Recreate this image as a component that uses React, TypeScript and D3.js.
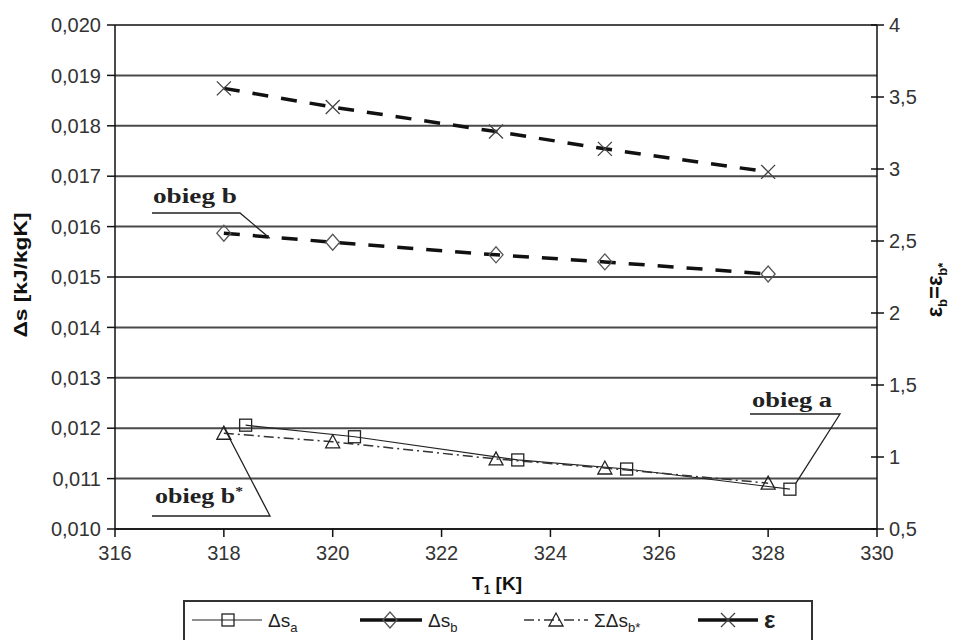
import React from "react";
import * as d3 from "d3";

// temperatures T1 [K]
const tempA = [318.4, 320.4, 323.4, 325.4, 328.4];
const tempB = [318, 320, 323, 325, 328];

// entropy changes [kJ/kgK] (left axis)
const dsA = [0.01206, 0.01183, 0.01137, 0.01119, 0.01079];
const dsB = [0.01587, 0.01569, 0.01544, 0.0153, 0.01506];
const dsBStar = [0.0119, 0.01173, 0.01139, 0.01121, 0.01091];

// epsilon (right axis)
const epsilon = [3.56, 3.43, 3.26, 3.14, 2.98];

const xTicks = [316, 318, 320, 322, 324, 326, 328, 330];
const leftTicks = [0.01, 0.011, 0.012, 0.013, 0.014, 0.015, 0.016, 0.017, 0.018, 0.019, 0.02];
const rightTicks = [0.5, 1, 1.5, 2, 2.5, 3, 3.5, 4];

const W = 963,
  H = 640;
const plot = { left: 115, right: 877, top: 25, bottom: 529 };
const sans = "'Liberation Sans', Arial, sans-serif";
const serif = "'Liberation Serif', 'Times New Roman', serif";

const x = d3.scaleLinear().domain([316, 330]).range([plot.left, plot.right]);
const yL = d3.scaleLinear().domain([0.01, 0.02]).range([plot.bottom, plot.top]);
const yR = d3.scaleLinear().domain([0.5, 4]).range([plot.bottom, plot.top]);

const fmtL = (v: number) => d3.format(".3f")(v).replace(".", ",");
const fmtR = (v: number) => (Number.isInteger(v) ? String(v) : String(v).replace(".", ","));

const Square = ({ cx, cy }: { cx: number; cy: number }) => (
  <rect x={cx - 6} y={cy - 6} width={12} height={12} fill="none" stroke="#222" strokeWidth={1.3} />
);
const Diamond = ({ cx, cy }: { cx: number; cy: number }) => (
  <path d={`M${cx - 7},${cy}L${cx},${cy - 8}L${cx + 7},${cy}L${cx},${cy + 8}Z`} fill="none" stroke="#555" strokeWidth={1.3} />
);
const Triangle = ({ cx, cy }: { cx: number; cy: number }) => (
  <path d={`M${cx - 7},${cy + 6}L${cx},${cy - 7}L${cx + 7},${cy + 6}Z`} fill="none" stroke="#222" strokeWidth={1.3} />
);
const Cross = ({ cx, cy }: { cx: number; cy: number }) => (
  <path d={`M${cx - 7},${cy - 7}L${cx + 7},${cy + 7}M${cx - 7},${cy + 7}L${cx + 7},${cy - 7}`} stroke="#444" strokeWidth={1.3} />
);

const App = () => {
  const lineA = d3.line<number>().x((_, i) => x(tempA[i])).y((d) => yL(d))(dsA);
  const lineB = d3.line<number>().x((_, i) => x(tempB[i])).y((d) => yL(d))(dsB);
  const lineBStar = d3.line<number>().x((_, i) => x(tempB[i])).y((d) => yL(d))(dsBStar);
  const lineE = d3.line<number>().x((_, i) => x(tempB[i])).y((d) => yR(d))(epsilon);

  // annotation anchors from data points
  const bPt = [x(tempB[0]), yL(dsB[0])];
  const bStarPt = [x(tempB[0]), yL(dsBStar[0])];
  const aPt = [x(tempA[4]), yL(dsA[4])];

  const legY = 620;

  return (
    <svg width={W} height={H} style={{ position: "absolute", left: 0, top: 0, background: "#fff" }}>
      {/* gridlines */}
      {leftTicks.map((t) => (
        <line key={t} x1={plot.left} x2={plot.right} y1={yL(t)} y2={yL(t)} stroke="#4a4a4a" strokeWidth={2} />
      ))}
      {/* axes */}
      <line x1={plot.left} x2={plot.left} y1={plot.top} y2={plot.bottom} stroke="#111" strokeWidth={1.5} />
      <line x1={plot.right} x2={plot.right} y1={plot.top} y2={plot.bottom} stroke="#111" strokeWidth={1.5} />
      <line x1={plot.left} x2={plot.right} y1={plot.bottom} y2={plot.bottom} stroke="#111" strokeWidth={1.5} />

      {leftTicks.map((t) => (
        <g key={t}>
          <line x1={plot.left - 8} x2={plot.left} y1={yL(t)} y2={yL(t)} stroke="#111" strokeWidth={1.5} />
          <text x={plot.left - 14} y={yL(t)} dy="0.36em" textAnchor="end" fontFamily={sans} fontSize={20} fill="#333">
            {fmtL(t)}
          </text>
        </g>
      ))}
      {rightTicks.map((t) => (
        <g key={t}>
          <line x1={plot.right - 6} x2={plot.right + 7} y1={yR(t)} y2={yR(t)} stroke="#111" strokeWidth={1.5} />
          <text x={plot.right + 12} y={yR(t)} dy="0.36em" fontFamily={sans} fontSize={20} fill="#333">
            {fmtR(t)}
          </text>
        </g>
      ))}
      {xTicks.map((t) => (
        <g key={t}>
          <line x1={x(t)} x2={x(t)} y1={plot.bottom} y2={plot.bottom + 8} stroke="#111" strokeWidth={1.5} />
          <text x={x(t)} y={plot.bottom + 31} textAnchor="middle" fontFamily={sans} fontSize={20} fill="#333">
            {t}
          </text>
        </g>
      ))}

      {/* axis titles */}
      <text transform="translate(27,275) rotate(-90)" textAnchor="middle" fontFamily={sans} fontWeight="bold" fontSize={18} fill="#111" textLength={125} lengthAdjust="spacingAndGlyphs">
        Δs [kJ/kgK]
      </text>
      <text transform="translate(942,290) rotate(-90)" textAnchor="middle" fontFamily={sans} fontWeight="bold" fontSize={22} fill="#111">
        ε<tspan fontSize={13} dy={5}>b</tspan>
        <tspan dy={-5}>=ε</tspan>
        <tspan fontSize={13} dy={5}>b*</tspan>
      </text>
      <text x={497} y={590} textAnchor="middle" fontFamily={sans} fontWeight="bold" fontSize={19} fill="#111">
        T<tspan fontSize={12} dy={4}>1</tspan>
        <tspan dy={-4}> [K]</tspan>
      </text>

      {/* series */}
      <path d={lineA ?? ""} fill="none" stroke="#222" strokeWidth={1.2} />
      <path d={lineBStar ?? ""} fill="none" stroke="#333" strokeWidth={1.5} strokeDasharray="10,4,2,4" />
      <path d={lineB ?? ""} fill="none" stroke="#111" strokeWidth={3.5} strokeDasharray="16,13" />
      <path d={lineE ?? ""} fill="none" stroke="#111" strokeWidth={3.5} strokeDasharray="16,13" />
      {dsA.map((d, i) => (
        <Square key={i} cx={x(tempA[i])} cy={yL(d)} />
      ))}
      {dsBStar.map((d, i) => (
        <Triangle key={i} cx={x(tempB[i])} cy={yL(d)} />
      ))}
      {dsB.map((d, i) => (
        <Diamond key={i} cx={x(tempB[i])} cy={yL(d)} />
      ))}
      {epsilon.map((d, i) => (
        <Cross key={i} cx={x(tempB[i])} cy={yR(d)} />
      ))}

      {/* annotations */}
      <text x={153} y={203} fontFamily={serif} fontWeight="bold" fontSize={20} fill="#222" textLength={84} lengthAdjust="spacingAndGlyphs">
        obieg b
      </text>
      <polyline points={`152,213 240,213 ${bPt[0] + 46},${bPt[1] + 5}`} fill="none" stroke="#222" strokeWidth={1.3} />
      <text x={155} y={503} fontFamily={serif} fontWeight="bold" fontSize={20} fill="#222" textLength={88} lengthAdjust="spacingAndGlyphs">
        obieg b
        <tspan fontSize={12} dy={-8}>*</tspan>
      </text>
      <polyline points={`152,516 270,516 ${bStarPt[0]},${bStarPt[1] - 6}`} fill="none" stroke="#222" strokeWidth={1.3} />
      <text x={752} y={407} fontFamily={serif} fontWeight="bold" fontSize={20} fill="#222" textLength={80} lengthAdjust="spacingAndGlyphs">
        obieg a
      </text>
      <polyline points={`750,414 840,414 ${aPt[0] + 6},${aPt[1] - 6}`} fill="none" stroke="#222" strokeWidth={1.3} />

      {/* legend */}
      <rect x={184} y={601} width={628} height={50} fill="#fff" stroke="#333" strokeWidth={2} />
      <line x1={192} x2={262} y1={legY} y2={legY} stroke="#222" strokeWidth={1.2} />
      <Square cx={228} cy={legY} />
      <text x={268} y={legY + 7} fontFamily={sans} fontSize={19} fill="#222">
        Δs<tspan fontSize={13} dy={5}>a</tspan>
      </text>
      <line x1={360} x2={422} y1={legY} y2={legY} stroke="#111" strokeWidth={3.5} />
      <Diamond cx={390} cy={legY} />
      <text x={428} y={legY + 7} fontFamily={sans} fontSize={19} fill="#222">
        Δs<tspan fontSize={13} dy={5}>b</tspan>
      </text>
      <line x1={524} x2={588} y1={legY} y2={legY} stroke="#333" strokeWidth={1.5} strokeDasharray="10,4,2,4" />
      <Triangle cx={556} cy={legY} />
      <text x={594} y={legY + 7} fontFamily={sans} fontSize={19} fill="#222">
        ΣΔs<tspan fontSize={13} dy={5}>b*</tspan>
      </text>
      <line x1={698} x2={758} y1={legY} y2={legY} stroke="#111" strokeWidth={3.5} />
      <Cross cx={728} cy={legY} />
      <text x={764} y={legY + 8} fontFamily={sans} fontWeight="bold" fontSize={24} fill="#222">
        ε
      </text>
    </svg>
  );
};

export default App;
